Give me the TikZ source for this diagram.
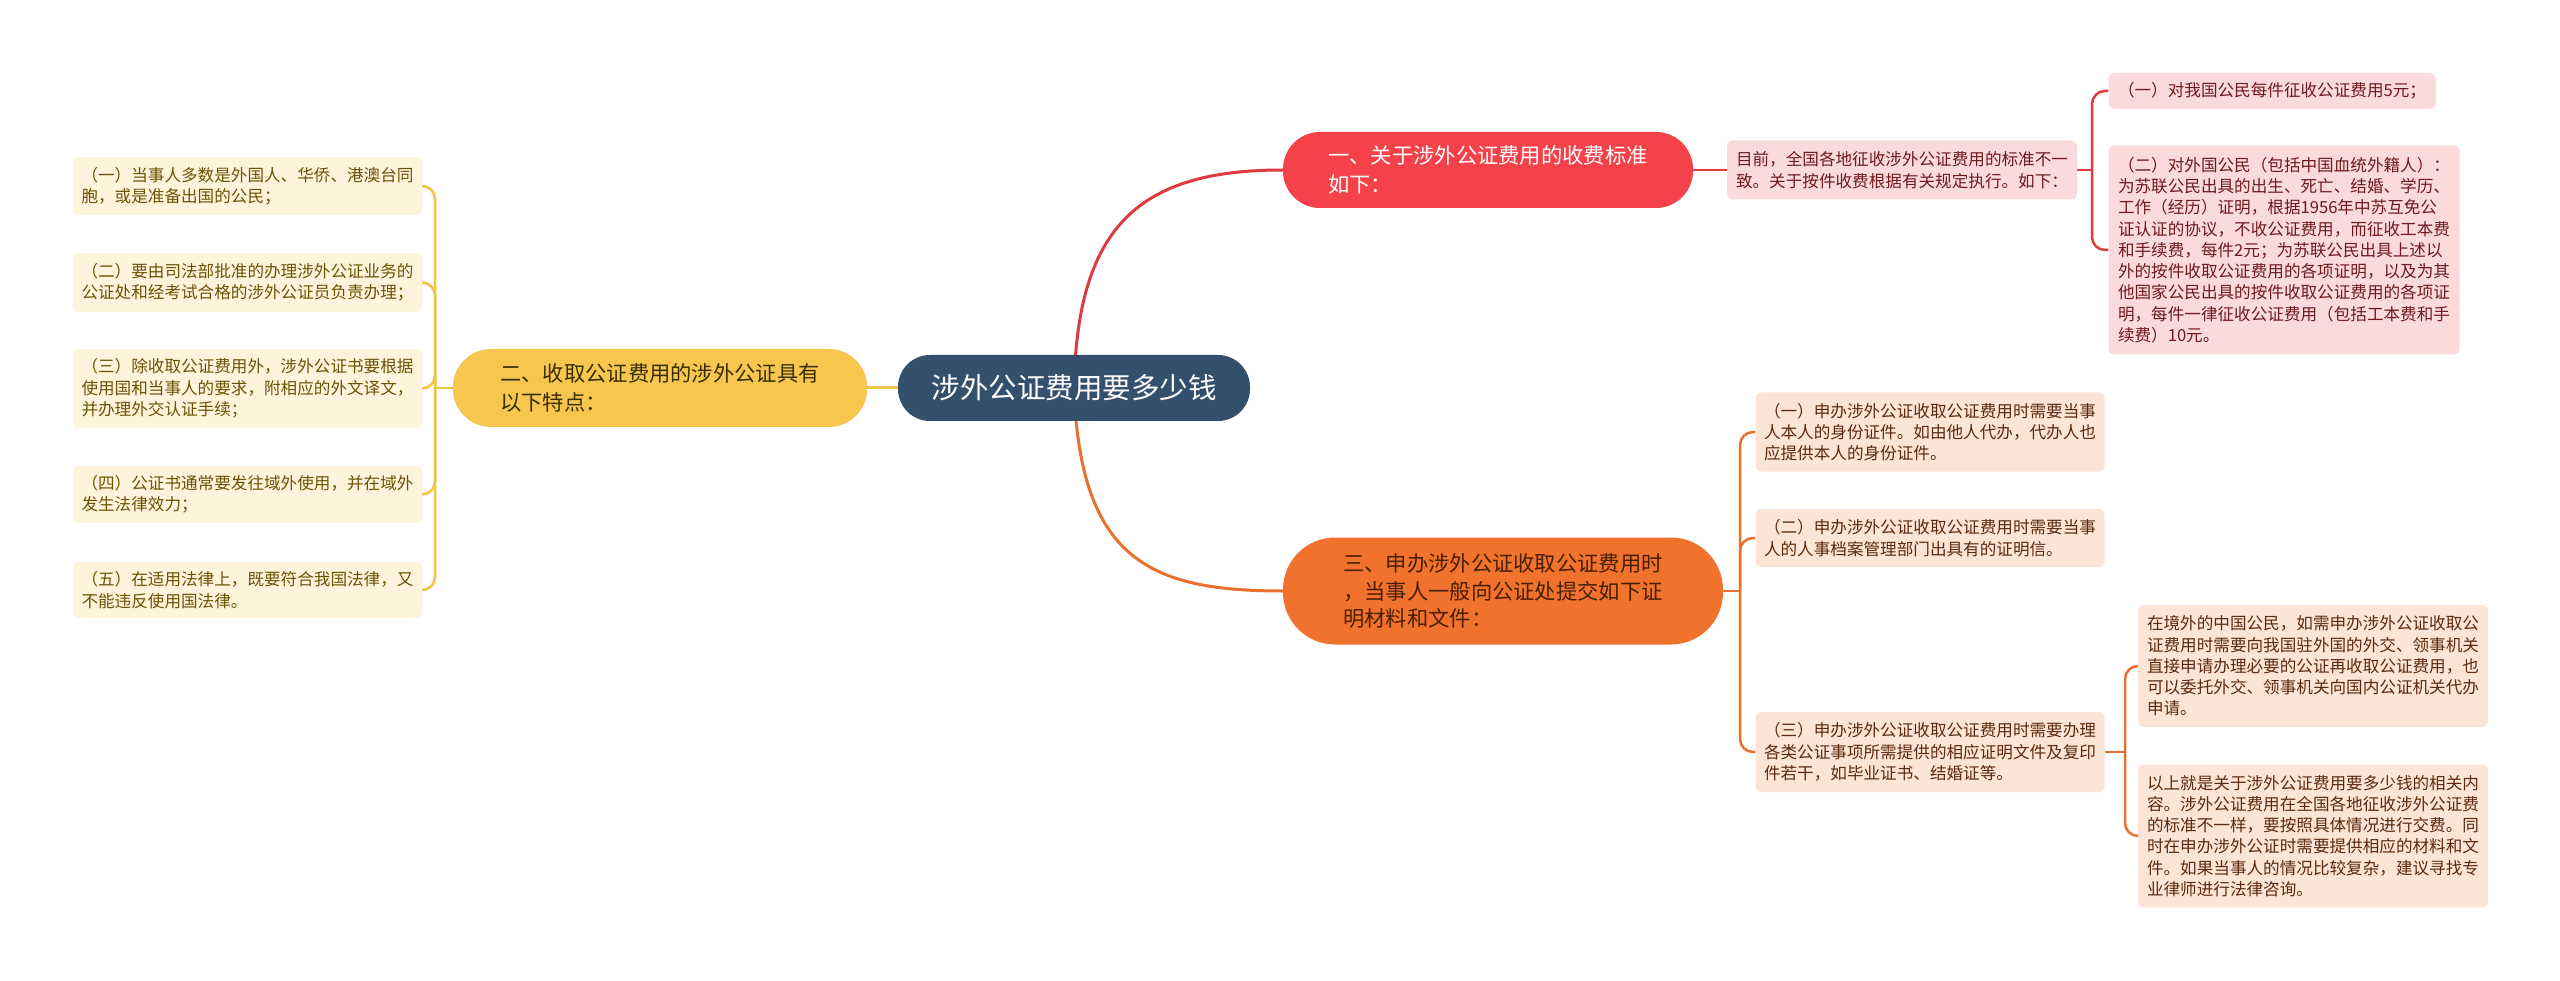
\documentclass[tikz,border=0pt]{standalone}
\usepackage{fontspec}
\setmainfont{Noto Sans CJK SC}
\usetikzlibrary{backgrounds}
\definecolor{cblue}{HTML}{35506D}
\definecolor{cred}{HTML}{F5424A}
\definecolor{credline}{HTML}{DE3A40}
\definecolor{credleaf}{HTML}{FBDADC}
\definecolor{credtext}{HTML}{6E1A1E}
\definecolor{cyel}{HTML}{F7C64E}
\definecolor{cyelline}{HTML}{F2C446}
\definecolor{cyelleaf}{HTML}{FEF4DC}
\definecolor{cyeltext}{HTML}{6B5306}
\definecolor{cyelbtext}{HTML}{3A2E00}
\definecolor{corg}{HTML}{F0722C}
\definecolor{corgline}{HTML}{E8712F}
\definecolor{corgleaf}{HTML}{FCE4D6}
\definecolor{corgtext}{HTML}{5C2A0E}
\definecolor{corgbtext}{HTML}{4A1E00}
\tikzset{
  rootnode/.style={fill=cblue, text=white, rounded corners=32pt, minimum width=352pt, minimum height=66pt, inner sep=0pt, font=\fontsize{28.5}{34}\selectfont},
  branchnode/.style={align=left, inner sep=0pt, font=\fontsize{21.3}{28.5}\selectfont},
  leafnode/.style={align=left, inner xsep=8pt, inner ysep=4pt, rounded corners=6pt, font=\fontsize{16.6}{21.3}\selectfont, minimum width=349pt},
  redleaf/.style={leafnode, fill=credleaf, text=credtext},
  orgleaf/.style={leafnode, fill=corgleaf, text=corgtext},
  yelleaf/.style={leafnode, fill=cyelleaf, text=cyeltext},
  rline/.style={draw=credline, line width=2.5pt},
  oline/.style={draw=corgline, line width=2.5pt},
  yline/.style={draw=cyelline, line width=2.5pt},
  bracket/.style={rounded corners=13pt},
}
\begin{document}
\begin{tikzpicture}[x=1pt,y=-1pt]
\useasboundingbox (0,0) rectangle (2560,981);
\begin{scope}[on background layer]
\fill[white] (0,0) rectangle (2560,981);
\end{scope}

% root
\node[rootnode] (root) at (1074,388) {涉外公证费用要多少钱};

% main branches
\node[branchnode, fill=cred, text=white, rounded corners=37pt, minimum width=410pt, minimum height=76pt] (rb) at (1488,170) {一、关于涉外公证费用的收费标准\\如下：};
\node[branchnode, fill=cyel, text=cyelbtext, rounded corners=38pt, minimum width=414pt, minimum height=78pt] (yb) at (660,388) {二、收取公证费用的涉外公证具有\\以下特点：};
\node[branchnode, fill=corg, text=corgbtext, rounded corners=52pt, minimum width=440pt, minimum height=107pt, font=\fontsize{21.3}{27.5}\selectfont] (ob) at (1503,591) {三、申办涉外公证收取公证费用时\\，当事人一般向公证处提交如下证\\明材料和文件：};

% red leaves
\node[redleaf, minimum width=350pt, minimum height=59pt] (rl) at (1902,170) {目前，全国各地征收涉外公证费用的标准不一\\致。关于按件收费根据有关规定执行。如下：};
\node[redleaf, minimum width=327pt, minimum height=36pt] (r1) at (2272,91) {（一）对我国公民每件征收公证费用5元；};
\node[redleaf, minimum width=351pt, minimum height=209pt] (r2) at (2284,250) {（二）对外国公民（包括中国血统外籍人）：\\为苏联公民出具的出生、死亡、结婚、学历、\\工作（经历）证明，根据1956年中苏互免公\\证认证的协议，不收公证费用，而征收工本费\\和手续费，每件2元；为苏联公民出具上述以\\外的按件收取公证费用的各项证明，以及为其\\他国家公民出具的按件收取公证费用的各项证\\明，每件一律征收公证费用（包括工本费和手\\续费）10元。};

% orange leaves
\node[orgleaf, minimum height=79pt] (o1) at (1930,432) {（一）申办涉外公证收取公证费用时需要当事\\人本人的身份证件。如由他人代办，代办人也\\应提供本人的身份证件。};
\node[orgleaf, minimum height=58pt] (o2) at (1930,538) {（二）申办涉外公证收取公证费用时需要当事\\人的人事档案管理部门出具有的证明信。};
\node[orgleaf, minimum height=80pt] (o3) at (1930,752) {（三）申办涉外公证收取公证费用时需要办理\\各类公证事项所需提供的相应证明文件及复印\\件若干，如毕业证书、结婚证等。};
\node[orgleaf, minimum width=350pt, minimum height=122pt] (oa) at (2313,666) {在境外的中国公民，如需申办涉外公证收取公\\证费用时需要向我国驻外国的外交、领事机关\\直接申请办理必要的公证再收取公证费用，也\\可以委托外交、领事机关向国内公证机关代办\\申请。};
\node[orgleaf, minimum width=350pt, minimum height=143pt] (obb) at (2313,836) {以上就是关于涉外公证费用要多少钱的相关内\\容。涉外公证费用在全国各地征收涉外公证费\\的标准不一样，要按照具体情况进行交费。同\\时在申办涉外公证时需要提供相应的材料和文\\件。如果当事人的情况比较复杂，建议寻找专\\业律师进行法律咨询。};

% yellow leaves
\node[yelleaf, minimum height=58pt] (y1) at (247.5,186) {（一）当事人多数是外国人、华侨、港澳台同\\胞，或是准备出国的公民；};
\node[yelleaf, minimum height=59pt] (y2) at (247.5,282.5) {（二）要由司法部批准的办理涉外公证业务的\\公证处和经考试合格的涉外公证员负责办理；};
\node[yelleaf, minimum height=79pt] (y3) at (247.5,388.5) {（三）除收取公证费用外，涉外公证书要根据\\使用国和当事人的要求，附相应的外文译文，\\并办理外交认证手续；};
\node[yelleaf, minimum height=57pt] (y4) at (247.5,494.5) {（四）公证书通常要发往域外使用，并在域外\\发生法律效力；};
\node[yelleaf, minimum height=56pt] (y5) at (247.5,590) {（五）在适用法律上，既要符合我国法律，又\\不能违反使用国法律。};

% junction coordinates
\coordinate (rj) at (2092,170);
\coordinate (oj) at (1740,591);
\coordinate (o3j) at (2125,752);
\coordinate (yj) at (435,388);

\begin{scope}[on background layer]
% root connectors
\draw[rline, line width=3pt] (root.center) .. controls (1077,225) and (1140,170) .. (rb.west);
\draw[oline, line width=3pt] (root.center) .. controls (1080,560) and (1150,591) .. (ob.west);
\draw[yline, line width=3pt] (root.west) -- (yb.east);
% red
\draw[rline] (rb.east) -- (rl.west);
\draw[rline] (rl.east) -- (rj);
\draw[rline, bracket] (rj) |- (r1.west);
\draw[rline, bracket] (rj) |- (r2.west);
% orange
\draw[oline] (ob.east) -- (oj);
\draw[oline, bracket] (oj) |- (o1.west);
\draw[oline, bracket] (oj) |- (o2.west);
\draw[oline, bracket] (oj) |- (o3.west);
\draw[oline] (o3.east) -- (o3j);
\draw[oline, bracket] (o3j) |- (oa.west);
\draw[oline, bracket] (o3j) |- (obb.west);
% yellow
\draw[yline] (yb.west) -- (yj);
\draw[yline, bracket] (yj) |- (y1.east);
\draw[yline, bracket] (yj) |- (y2.east);
\draw[yline, bracket] (yj) |- (y3.east);
\draw[yline, bracket] (yj) |- (y4.east);
\draw[yline, bracket] (yj) |- (y5.east);
\end{scope}
\end{tikzpicture}
\end{document}
